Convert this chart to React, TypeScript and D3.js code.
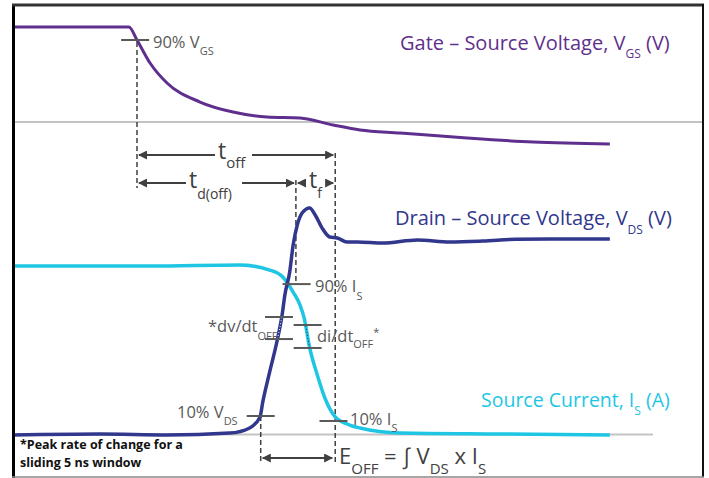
import * as d3 from "d3"

// time in ns (schematic), values as fraction of full scale
const gateT = [0, 16.8, 17.97, 19.86, 22.32, 27.1, 31.88, 36.8, 41.6, 46.4, 50.3, 56.1, 65.8, 75.4, 86.5]
const gateV = [1, 1, 0.9, 0.723, 0.569, 0.423, 0.346, 0.308, 0.3, 0.246, 0.208, 0.185, 0.146, 0.115, 0.1]

const vdsT = [0, 12.6, 22.3, 31.4, 34.3, 35.8, 36.2, 37.2, 38.3, 39.0, 39.4, 40.1, 40.6, 41.2, 41.9, 43.0, 43.8, 44.8, 45.9, 47.0, 48.4, 49.9, 53.6, 58.6, 63.3, 68.1, 72.9, 77.8, 86.5]
const vdsV = [0, 0.005, 0, 0.01, 0.037, 0.095, 0.174, 0.332, 0.5, 0.632, 0.737, 0.858, 1.0, 1.105, 1.168, 1.195, 1.158, 1.089, 1.042, 1.037, 1.016, 1.016, 1.01, 1.026, 1.016, 1.021, 1.03, 1.032, 1.032]

const isT = [0, 19.9, 32.9, 37.2, 39.1, 40.6, 41.6, 42.2, 43.0, 44.1, 45.2, 46.7, 48.8, 50.3, 56.1, 70.6, 86.5]
const isV = [1.0, 1.0, 1.006, 0.976, 0.935, 0.846, 0.769, 0.692, 0.515, 0.355, 0.219, 0.107, 0.059, 0.041, 0.012, 0.006, 0]

// switching instants (ns)
const t90Vgs = 17.97
const t10Vds = 35.9
const t90Is = 41.0
const t10Is = 46.7

// tick marks: [time, value]
const gateTicks = [[17.7, 0.9]]
const vdsTicks = [[35.9, 0.1], [38.55, 0.621], [38.55, 0.505]]
const isTicks = [[41.1, 0.893], [42.7, 0.651], [42.7, 0.515], [46.45, 0.083]]

const W = 709
const H = 478

const gateColor = "#5f2f8e"
const vdsColor = "#30378c"
const isColor = "#1ec6e4"
const annColor = "#595959"
const arrowColor = "#404040"
const font = "'Open Sans', Lato, sans-serif"

type Part = { t: string; sub?: boolean; sup?: boolean }

function Rich({ x, y, parts, size, subSize, off, fill, weight }: {
  x: number; y: number; parts: Part[]; size: number; subSize: number; off: number; fill: string; weight?: string
}) {
  let shift = 0
  return (
    <text x={x} y={y} fontFamily={font} fontSize={size} fill={fill} fontWeight={weight}>
      {parts.map((p, i) => {
        const target = p.sub ? off : p.sup ? -off : 0
        const dy = target - shift
        shift = target
        return (
          <tspan key={i} dy={dy} fontSize={p.sub || p.sup ? subSize : size}>{p.t}</tspan>
        )
      })}
    </text>
  )
}

export default function App() {
  const x = d3.scaleLinear().domain([0, 100]).range([13, 703])
  const yGate = d3.scaleLinear().domain([0, 1]).range([157, 27])
  const yVds = d3.scaleLinear().domain([0, 1]).range([435, 245])
  const yIs = d3.scaleLinear().domain([0, 1]).range([435, 266])

  const line = (ts: number[], vs: number[], y: d3.ScaleLinear<number, number>) =>
    d3.line<number>().x((d) => x(d)).y((_, i) => y(vs[i])).curve(d3.curveMonotoneX)(ts) || ""

  const gatePath = line(gateT, gateV, yGate)
  const vdsPath = line(vdsT, vdsV, yVds)
  const isPath = line(isT, isV, yIs)

  const tick = (t: number, v: number, y: d3.ScaleLinear<number, number>, k: string) => (
    <line key={k} x1={x(t) - 14} x2={x(t) + 14} y1={y(v)} y2={y(v)} stroke={annColor} strokeWidth={2} />
  )

  const dash = (t: number, y1: number, y2: number) => (
    <line x1={x(t)} x2={x(t)} y1={y1} y2={y2} stroke={arrowColor} strokeWidth={1.5} strokeDasharray="5,3" />
  )

  const rowOff = 155
  const rowTd = 183
  const rowE = 458

  return (
    <svg width={W} height={H} style={{ position: "absolute", left: 0, top: 0, background: "#fff" }}>
      <defs>
        <marker id="ah" viewBox="0 0 10 10" refX="9" refY="5" markerWidth="4.5" markerHeight="4.5" orient="auto-start-reverse">
          <path d="M0,0 L10,5 L0,10 Z" fill={arrowColor} />
        </marker>
        <clipPath id="dvBand"><rect x={0} y={yVds(0.621)} width={W} height={yVds(0.505) - yVds(0.621)} /></clipPath>
        <clipPath id="diBand"><rect x={0} y={yIs(0.651)} width={W} height={yIs(0.515) - yIs(0.651)} /></clipPath>
      </defs>

      <rect x={0} y={0} width={W} height={H} fill="#fff" />

      {/* reference lines */}
      <line x1={13} x2={704} y1={122} y2={122} stroke="#c3c3c3" strokeWidth={2} />
      <line x1={13} x2={653} y1={434.5} y2={434.5} stroke="#c3c3c3" strokeWidth={2} />

      {/* dashed time markers */}
      {dash(t90Vgs, 42, 188)}
      {dash(t90Is, 180, 284)}
      {dash(t10Is, 153, 462)}
      {dash(t10Vds, 416, 462)}

      {/* waveforms */}
      <path d={gatePath} fill="none" stroke={gateColor} strokeWidth={3} />
      <path d={isPath} fill="none" stroke={isColor} strokeWidth={3.5} />
      <path d={vdsPath} fill="none" stroke={vdsColor} strokeWidth={3.5} />
      <path d={vdsPath} fill="none" stroke="#ffffff" strokeWidth={1} strokeDasharray="1,2" clipPath="url(#dvBand)" />
      <path d={isPath} fill="none" stroke="#333" strokeWidth={1} strokeDasharray="1,2" clipPath="url(#diBand)" />

      {/* ticks */}
      {gateTicks.map(([t, v], i) => tick(t, v, yGate, "g" + i))}
      {vdsTicks.map(([t, v], i) => tick(t, v, yVds, "v" + i))}
      {isTicks.map(([t, v], i) => tick(t, v, yIs, "i" + i))}

      {/* t_off arrow */}
      <line x1={x(t90Vgs) + 2} x2={215} y1={rowOff} y2={rowOff} stroke={arrowColor} strokeWidth={2} markerStart="url(#ah)" />
      <line x1={252} x2={x(t10Is) - 2} y1={rowOff} y2={rowOff} stroke={arrowColor} strokeWidth={2} markerEnd="url(#ah)" />
      <Rich x={218} y={159} size={23} subSize={15} off={9} fill={arrowColor} parts={[{ t: "t" }, { t: "off", sub: true }]} />

      {/* t_d(off) arrow */}
      <line x1={x(t90Vgs) + 2} x2={186} y1={rowTd} y2={rowTd} stroke={arrowColor} strokeWidth={2} markerStart="url(#ah)" />
      <line x1={242} x2={x(t90Is) - 2} y1={rowTd} y2={rowTd} stroke={arrowColor} strokeWidth={2} markerEnd="url(#ah)" />
      <Rich x={189} y={188} size={23} subSize={14} off={11} fill={arrowColor} parts={[{ t: "t" }, { t: "d(off)", sub: true }]} />

      {/* t_f arrow */}
      <line x1={x(t90Is) + 2} x2={x(t90Is) + 8} y1={rowTd} y2={rowTd} stroke={arrowColor} strokeWidth={2} markerStart="url(#ah)" />
      <line x1={x(t10Is) - 8} x2={x(t10Is) - 2} y1={rowTd} y2={rowTd} stroke={arrowColor} strokeWidth={2} markerEnd="url(#ah)" />
      <Rich x={309} y={188} size={23} subSize={14} off={10} fill={arrowColor} parts={[{ t: "t" }, { t: "f", sub: true }]} />

      {/* E_OFF arrow */}
      <line x1={x(t10Vds) + 2} x2={x(t10Is) - 3} y1={rowE} y2={rowE} stroke={arrowColor} strokeWidth={2} markerStart="url(#ah)" markerEnd="url(#ah)" />
      <Rich x={339} y={464} size={22} subSize={15} off={10} fill={arrowColor}
        parts={[{ t: "E" }, { t: "OFF", sub: true }, { t: " = ∫ V" }, { t: "DS", sub: true }, { t: " x I" }, { t: "S", sub: true }]} />

      {/* annotations */}
      <Rich x={153} y={48} size={16.5} subSize={11} off={7} fill={annColor} parts={[{ t: "90% V" }, { t: "GS", sub: true }]} />
      <Rich x={315} y={292} size={16.5} subSize={11} off={8} fill={annColor} parts={[{ t: "90% I" }, { t: "S", sub: true }]} />
      <Rich x={208} y={332} size={16.5} subSize={11} off={8} fill={annColor} parts={[{ t: "*dv/dt" }, { t: "OFF", sub: true }]} />
      <Rich x={317} y={342} size={16.5} subSize={11} off={6} fill={annColor} parts={[{ t: "di/dt" }, { t: "OFF", sub: true }, { t: "*", sup: true }]} />
      <Rich x={177} y={418} size={16.5} subSize={11} off={7} fill={annColor} parts={[{ t: "10% V" }, { t: "DS", sub: true }]} />
      <Rich x={350} y={425} size={16.5} subSize={11} off={7} fill={annColor} parts={[{ t: "10% I" }, { t: "S", sub: true }]} />

      {/* series labels */}
      <Rich x={400} y={50} size={20} subSize={12} off={8} fill={gateColor}
        parts={[{ t: "Gate – Source Voltage, V" }, { t: "GS", sub: true }, { t: " (V)" }]} />
      <Rich x={395} y={225} size={20} subSize={12} off={9} fill={vdsColor}
        parts={[{ t: "Drain – Source Voltage, V" }, { t: "DS", sub: true }, { t: " (V)" }]} />
      <Rich x={481} y={407} size={19.5} subSize={12} off={8} fill={isColor}
        parts={[{ t: "Source Current, I" }, { t: "S", sub: true }, { t: " (A)" }]} />

      {/* footnote */}
      <text x={20} y={449} fontFamily={font} fontSize={12.5} fontWeight="bold" fill="#111">*Peak rate of change for a</text>
      <text x={20} y={467} fontFamily={font} fontSize={12.5} fontWeight="bold" fill="#111">sliding 5 ns window</text>

      {/* frame */}
      <line x1={13.5} x2={13.5} y1={4} y2={478} stroke="#000" strokeWidth={3} />
      <line x1={12} x2={704} y1={5} y2={5} stroke="#333" strokeWidth={3} />
      <line x1={703} x2={703} y1={4} y2={477} stroke="#111" strokeWidth={2} />
      <line x1={12} x2={704} y1={477} y2={477} stroke="#888" strokeWidth={1.5} />
    </svg>
  )
}
